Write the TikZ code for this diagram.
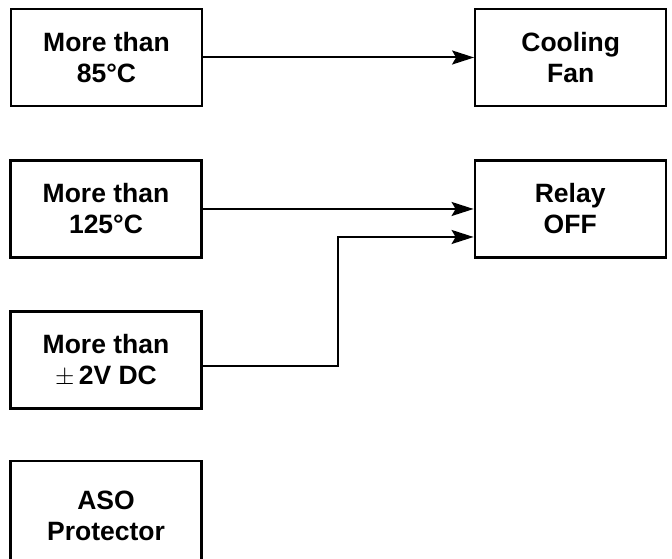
\documentclass[tikz,border=0pt]{standalone}
\usepackage{fontspec}
\setmainfont{Liberation Sans}
\usetikzlibrary{positioning, arrows.meta}

\tikzset{
  box/.style={draw, line width=2.2pt, minimum width=191pt, minimum height=97pt,
    align=center, inner sep=0pt,
    font=\fontsize{26.5}{31}\selectfont\bfseries},
  arr/.style={line width=2pt, -{Stealth[length=22pt, width=14pt, inset=4pt]}}
}

\begin{document}
\begin{tikzpicture}[x=1pt, y=1pt]
      \clip (0,0) rectangle (672,559);
      \node[box] (f85) at (106.5,501.5) {More than\\85°C};
      \node[box, right=271pt of f85] (fan) {Cooling\\Fan};
      \node[box] (f125) at (106,350) {More than\\125°C};
      \node[box, right=271pt of f125] (relay) {Relay\\OFF};
      \node[box] (dc) at (106,199) {More than\\$\pm$\,2V DC};
      \node[box, minimum height=110pt] (aso) at (106,43) {ASO\\Protector};
      \coordinate (bend) at (338,322);
      \draw[arr] (f85) -- (fan);
      \draw[arr] (f125) -- (relay);
      \draw[arr] ([yshift=-6pt]dc.east) -| (bend) -- (bend -| relay.west);
    \end{tikzpicture}
\end{document}
